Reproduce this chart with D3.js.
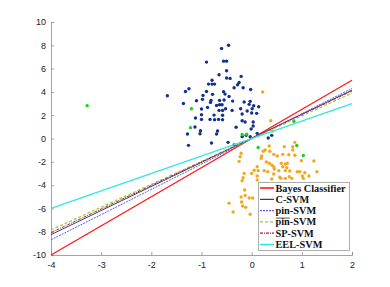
<!DOCTYPE html>
<html>
<head>
  <meta charset="utf-8">
  <title>Classifier boundaries</title>
  <script src="https://d3js.org/d3.v7.min.js"></script>
  <style>
    body { margin: 0; background: #fff; }
    .tick text { font: 9px "Liberation Sans", Arial, sans-serif; fill: #222; }
    .legend text { font: bold 10.3px "Liberation Serif", "Times New Roman", serif; fill: #111; }
  </style>
</head>
<body>
  <svg width="390" height="287"></svg>

  <script>
    // Data
    const xTicks = [-4, -3, -2, -1, 0, 1, 2];
    const yTicks = [-10, -8, -6, -4, -2, 0, 2, 4, 6, 8, 10];

    // class +1 (blue)
    const classA = [
      [-0.46, 8.01], [-0.60, 7.73], [-0.90, 6.56], [-0.56, 6.64], [-0.50, 6.64], [-0.50, 5.81],
      [-0.65, 5.47], [-0.50, 5.19], [-0.43, 5.16], [-0.21, 5.33], [-0.79, 5.00], [-0.86, 4.67],
      [-0.79, 4.67], [-0.74, 4.67], [-0.25, 4.81], [-0.28, 4.61], [-1.25, 4.27], [-1.32, 4.04],
      [-0.35, 4.36], [-0.17, 4.36], [-0.02, 4.21], [-0.90, 4.04], [-0.56, 4.01], [-1.68, 3.67],
      [-0.97, 3.70], [-0.78, 3.79], [-0.53, 3.81], [-0.45, 3.61], [-0.98, 3.36], [-1.10, 3.24],
      [-0.81, 3.27], [-0.82, 3.10], [-0.64, 3.27], [-0.55, 3.30], [-1.36, 3.01], [-0.38, 3.21],
      [-0.15, 3.13], [-0.03, 3.19], [-0.05, 2.93], [0.04, 2.81], [0.14, 2.73], [-0.88, 2.67],
      [-0.64, 2.90], [-0.59, 2.90], [-0.70, 2.84], [-1.00, 2.53], [-0.65, 2.41], [-0.58, 2.41],
      [-0.52, 2.56], [-0.22, 2.56], [-0.09, 2.36], [0.01, 2.56], [-0.39, 2.41], [-0.75, 2.01],
      [-1.00, 2.04], [-0.58, 1.99], [-0.19, 2.10], [0.00, 2.19], [0.10, 2.16], [-1.12, 1.76],
      [-1.00, 1.64], [-0.83, 1.64], [-0.74, 1.61], [-0.66, 1.64], [-0.58, 1.61], [-0.19, 1.53],
      [-0.13, 1.41], [0.03, 1.41], [-1.13, 0.99], [-0.68, 0.64], [-1.02, 0.67], [-1.03, 0.41],
      [-0.70, 0.39], [-1.28, 0.39], [-0.31, 0.96], [-0.01, 0.81], [0.03, 1.07], [0.11, 0.44],
      [-0.47, -0.33], [-0.80, -0.39], [-1.26, -0.59], [-0.19, 0.16], [-0.35, -0.56], [-0.03, 0.15],
      [0.40, 0.27], [0.33, 0.04], [-0.11, 0.27]
    ];

    // class -1 (orange)
    const classB = [
      [0.42, 0.64], [0.86, -0.33], [0.82, -0.70], [0.82, -0.99], [0.44, -1.36], [0.62, -1.36],
      [0.86, -1.44], [1.24, -1.93], [0.40, -2.27], [0.67, -2.19], [0.62, -2.42], [0.70, -2.51],
      [0.45, -2.62], [0.54, -2.76], [0.67, -2.76], [0.76, -2.79], [0.91, -2.85], [0.96, -2.85],
      [1.30, -2.85], [0.56, -3.33], [0.67, -3.42], [0.80, -3.42], [1.01, -3.22], [0.40, -3.48],
      [0.44, -3.05], [-0.21, -1.27], [-0.23, -1.56], [0.20, -1.50], [0.27, -0.99], [0.29, -2.02],
      [0.35, -2.13], [0.11, -2.42], [0.05, -2.73], [0.13, -2.76], [0.25, -2.76], [0.32, -2.85],
      [0.00, -2.99], [-0.17, -3.36], [0.11, -3.22], [-0.19, -3.62], [0.11, -3.56], [0.27, -3.85],
      [-0.14, -4.42], [-0.13, -4.88], [-0.05, -5.11], [0.02, -5.11], [-0.20, -5.45], [-0.18, -5.79],
      [-0.45, -5.55], [-0.37, -6.31], [-0.03, -6.50], [0.35, -0.64], [0.23, -1.10], [0.19, -1.70],
      [-0.25, -1.96], [-0.21, -5.02], [0.58, -3.42], [1.03, -3.42], [1.14, -3.22], [0.36, -1.10],
      [0.51, -1.50], [0.99, -1.91], [0.44, -2.42], [0.38, 1.53], [0.22, 3.99], [0.65, -0.70],
      [0.74, -1.39], [0.59, -2.13], [0.71, -2.13], [1.06, -2.94], [0.75, -3.28], [-0.15, -2.99],
      [-0.12, -5.91]
    ];

    // noisy / flipped points (green)
    const noisy = [
      [-3.28, 2.82], [-1.20, 2.56], [-1.22, 0.93], [-0.19, 0.34], [-0.10, 0.36],
      [0.13, -0.77], [0.84, 1.48], [0.90, -0.60], [1.03, -1.46]
    ];

    // decision boundaries: y at x = -4 and at x = 2
    const lineNames = ["Bayes Classifier", "C-SVM", "pin-SVM", "pin-SVM", "SP-SVM", "EEL-SVM"];
    const lineYLeft = [-10, -8.25, -8.7, -7.85, -8.08, -6];
    const lineYRight = [5, 4.15, 4.3, 3.9, 4.08, 3];

    const lineStyles = [
      { color: "#ff1a1a", width: 1.4, dash: null },
      { color: "#111111", width: 0.8, dash: null },
      { color: "#5a5aff", width: 1.0, dash: "2,1" },
      { color: "#99cc33", width: 1.2, dash: "3,2" },
      { color: "#a3204f", width: 1.0, dash: "3,1,1,1" },
      { color: "#33e6e6", width: 1.4, dash: null }
    ];

    const svg = d3.select("svg");
    const x = d3.scaleLinear().domain([-4, 2]).range([51, 352]);
    const y = d3.scaleLinear().domain([-10, 10]).range([255, 22]);

    // axes (ticks point inward like matlab)
    const xAxis = d3.axisBottom(x).tickValues(xTicks).tickSize(-3).tickPadding(7).tickFormat(d3.format("d"));
    const yAxis = d3.axisLeft(y).tickValues(yTicks).tickSize(-3).tickPadding(5).tickFormat(d3.format("d"));

    const gx = svg.append("g").attr("transform", `translate(0,${y(-10)})`).call(xAxis);
    const gy = svg.append("g").attr("transform", `translate(${x(-4)},0)`).call(yAxis);
    [gx, gy].forEach(g => {
      g.select(".domain").attr("stroke", "#8c8c8c").attr("stroke-width", 0.8);
      g.selectAll(".tick line").attr("stroke", "#8c8c8c").attr("stroke-width", 0.8);
      g.selectAll(".tick text").text(d => String(d));
    });

    // points
    const dots = svg.append("g");
    function drawDots(data, color) {
      dots.selectAll(null).data(data).enter().append("circle")
        .attr("cx", d => x(d[0]))
        .attr("cy", d => y(d[1]))
        .attr("r", 1.7)
        .attr("fill", color);
    }
    drawDots(classA, "#12318f");
    drawDots(classB, "#f2a81d");
    drawDots(noisy, "#19d119");

    // boundary lines
    const lines = svg.append("g");
    lineNames.forEach((name, i) => {
      const s = lineStyles[i];
      lines.append("line")
        .attr("x1", x(-4)).attr("y1", y(lineYLeft[i]))
        .attr("x2", x(2)).attr("y2", y(lineYRight[i]))
        .attr("stroke", s.color)
        .attr("stroke-width", s.width)
        .attr("stroke-dasharray", s.dash);
    });

    // legend
    const lg = svg.append("g").attr("class", "legend");
    lg.append("rect")
      .attr("x", 258.5).attr("y", 182.5).attr("width", 91).attr("height", 68)
      .attr("fill", "#fff").attr("stroke", "#999").attr("stroke-width", 0.8);
    lineNames.forEach((name, i) => {
      const s = lineStyles[i];
      const ry = 188 + i * 11.3;
      lg.append("line")
        .attr("x1", 260).attr("x2", 274).attr("y1", ry).attr("y2", ry)
        .attr("stroke", s.color).attr("stroke-width", s.width + 0.2)
        .attr("stroke-dasharray", s.dash);
      const t = lg.append("text").attr("x", 275.5).attr("y", ry + 3.5);
      if (i === 3) {
        // bar over "pin" drawn by hand so it sits just above the letters
        const pin = t.append("tspan").text("pin");
        t.append("tspan").text("-SVM");
        const w = pin.node().getComputedTextLength();
        lg.append("line")
          .attr("x1", 275.8).attr("x2", 275.5 + w)
          .attr("y1", ry - 3.8).attr("y2", ry - 3.8)
          .attr("stroke", "#111").attr("stroke-width", 0.7);
      } else {
        t.text(name);
      }
    });
  </script>
</body>
</html>
